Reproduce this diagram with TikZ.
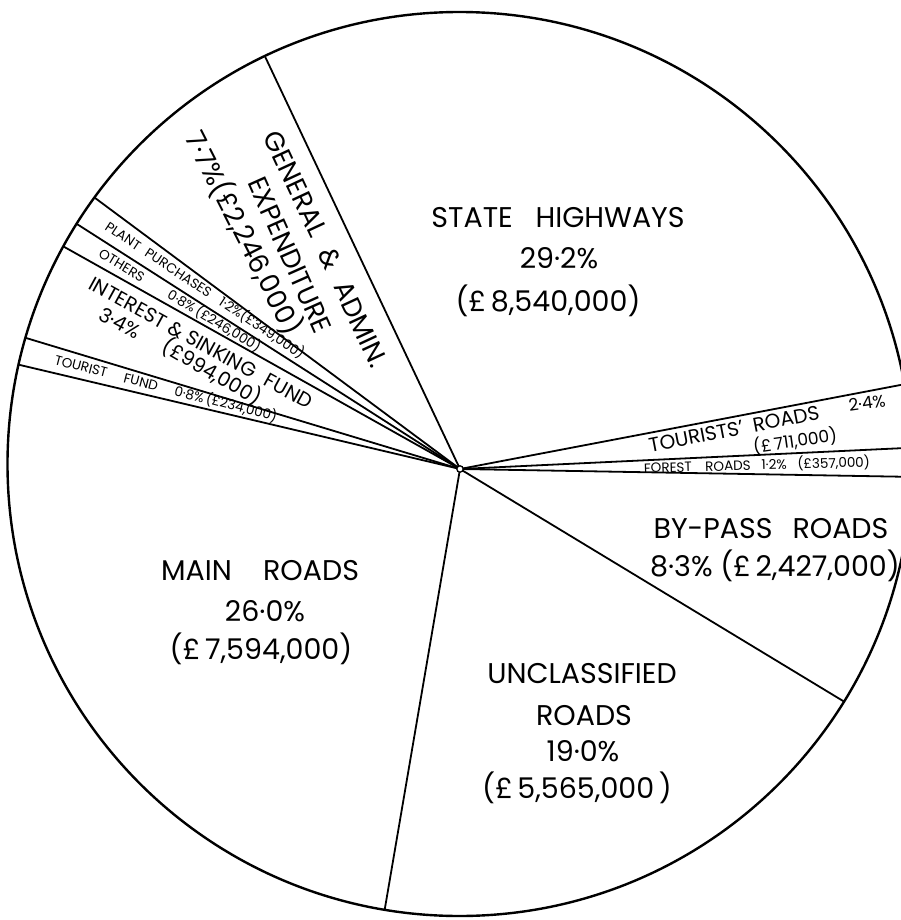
\documentclass[tikz,border=0pt]{standalone}
\usepackage{fontspec}
\setmainfont{Poppins}
\begin{document}
\begin{tikzpicture}[x=1pt,y=-1pt]
\tikzset{
  big/.style={font=\fontsize{28.5}{33}\selectfont, inner sep=0pt},
  gen/.style={font=\fontsize{27}{31}\selectfont, inner sep=0pt},
  mid/.style={font=\fontsize{20}{24}\selectfont, inner sep=0pt},
  smallish/.style={font=\fontsize{17}{20}\selectfont, inner sep=0pt},
  tiny/.style={font=\fontsize{13.5}{15}\selectfont, inner sep=0pt},
  sector/.style={line width=1.8pt},
  rim/.style={line width=2.4pt},
}
\useasboundingbox (0,0) rectangle (901,920);
\fill[white] (0,0) rectangle (901,920);
\clip (0,0) rectangle (901,920);
\coordinate (c) at (459.5,464);
\coordinate (hub) at (460,469);
\begin{scope}
  \clip (c) circle[radius=452pt];
  \foreach \a in {115.3,143.4,147.4,150.7,163.2,166.7,260.3,328.8,359.0,2.7,10.8}
    \draw[sector] (hub) -- ++(\a:700pt);
\end{scope}
\draw[rim] (c) circle[radius=452pt];
\draw[line width=1.3pt, fill=white] (hub) circle[radius=3.2pt];

% State highways
\node[big] (sh1) at (558,218) {STATE\hspace{0.8em}HIGHWAYS};
\node[big] (sh2) at (559,258) {29·2\%};
\node[big] (sh3) at (548,301) {(£\,8,540,000)};

% Main roads
\node[big] (mr1) at (260,571) {MAIN\hspace{1.1em}ROADS};
\node[big] (mr2) at (265,611) {26·0\%};
\node[big] (mr3) at (261,649) {(£\,7,594,000)};

% Unclassified
\node[big] (ur1) at (582,674) {UNCLASSIFIED};
\node[big] (ur2) at (584,716) {ROADS};
\node[big] (ur3) at (583,751) {19·0\%};
\node[big] (ur4) at (577,788) {(£\,5,565,000\,)};

% By-pass
\node[big] (bp1) at (771,529) {BY-PASS\hspace{0.7em}ROADS};
\node[big] (bp2) at (775,566) {8·3\% (£\,2,427,000)};

% Tourists' roads
\node[mid, rotate=11] (tr1) at (734,429) {TOURISTS'\hspace{0.5em}ROADS};
\node[smallish, rotate=8] (tr2) at (867,403) {2·4\%};
\node[smallish, rotate=8] (tr3) at (795,441) {(£\,711,000)};

% Forest roads
\node[tiny, rotate=1.5] (fr) at (757,465) {FOREST\hspace{1em}ROADS\hspace{0.8em}1·2\%\hspace{0.8em}(£357,000)};

% Tourist fund
\node[tiny, rotate=-14.5] (tf) at (166,388) {TOURIST\hspace{1.3em}FUND\hspace{1.3em}0·8\%\,(£234,000)};

% Interest & sinking fund
\node[mid, rotate=-28.8] (is1) at (201,343) {INTEREST \& SINKING\hspace{0.6em}FUND};
\node[mid, rotate=-28] (is2) at (120,323) {3·4\%};
\node[mid, rotate=-30] (is3) at (212,372) {(£994,000)};

% Others
\node[tiny, rotate=-31] (ot) at (180,300) {OTHERS\hspace{2.2em}0·8\%\,(£246,000)};

% Plant purchases
\node[tiny, rotate=-33.5] (pp) at (205,290) {PLANT\hspace{0.6em}PURCHASES\hspace{0.9em}1·2\%(£349,000)};

% General & admin
\node[gen, rotate=-65] (ga1) at (326,249) {GENERAL\hspace{0.6em}\&\hspace{0.6em}ADMIN.};
\node[gen, rotate=-66] (ga2) at (290,255) {EXPENDITURE};
\node[gen, rotate=-63] (ga3) at (244,233) {7·7\%(£2,246,000)};
\end{tikzpicture}
\end{document}
